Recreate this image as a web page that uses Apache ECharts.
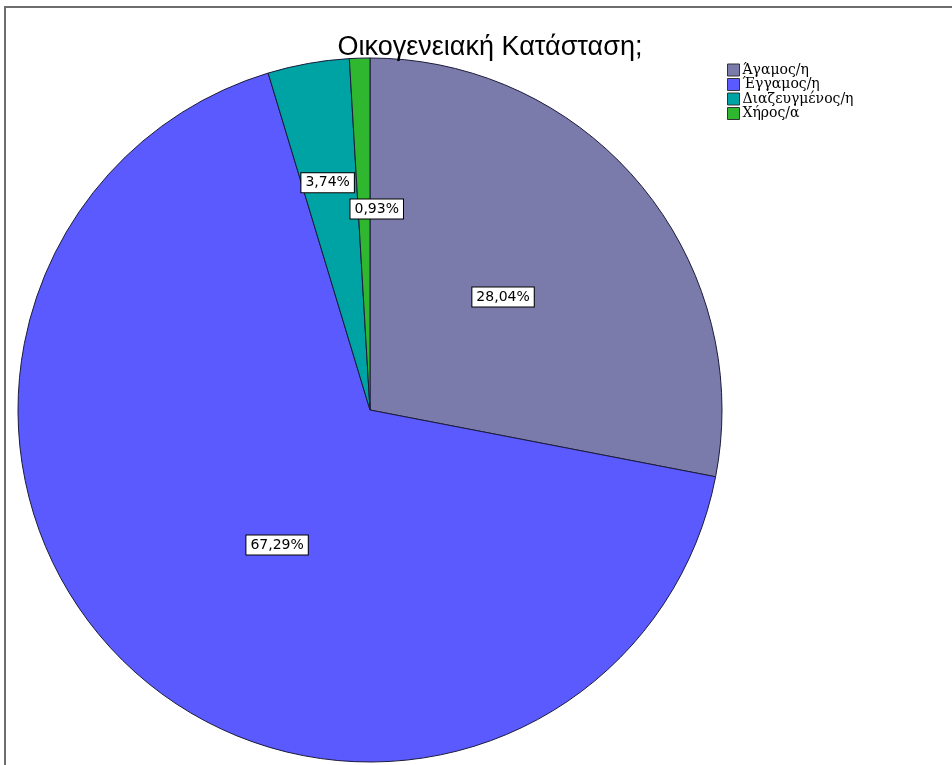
<!DOCTYPE html>
<html>
<head>
<meta charset="utf-8">
<script src="https://cdn.jsdelivr.net/npm/echarts@6/dist/echarts.min.js"></script>
<style>
html,body{margin:0;padding:0;background:#fff;}
#frame{position:absolute;left:4px;top:6px;width:948px;height:759px;border-top:2px solid #6e6e6e;border-left:2px solid #6e6e6e;box-sizing:border-box;}
#chart{position:absolute;left:0;top:0;width:952px;height:765px;}
</style>
</head>
<body>
<div id="frame"></div>
<div id="chart"></div>
<script>
const titleText = 'Οικογενειακή Κατάσταση;';
const categories = ['Άγαμος/η', 'Έγγαμος/η', 'Διαζευγμένος/η', 'Χήρος/α'];
const counts = [30, 72, 4, 1];
const colors = ['#7b7bab', '#5a5aff', '#00a3a3', '#2fb72f'];
const labelOffsets = [[-5, 1], [27, 2], [-11, -51], [12, -22]];

const chart = echarts.init(document.getElementById('chart'), null, {renderer: 'canvas'});
const data = categories.map((c, i) => ({
  name: c,
  value: counts[i],
  itemStyle: {color: colors[i]},
  label: {offset: labelOffsets[i]}
}));
chart.setOption({
  animation: false,
  backgroundColor: 'transparent',
  title: {
    text: titleText,
    left: 485,
    textAlign: 'center',
    top: 29,
    textStyle: {fontFamily: 'Liberation Sans, Arial, sans-serif', fontSize: 27, fontWeight: 'normal', color: '#000'}
  },
  legend: {
    orient: 'vertical',
    left: 722,
    top: 58,
    itemWidth: 12,
    itemHeight: 12,
    itemGap: 0.5,
    icon: 'rect',
    itemStyle: {borderColor: '#333', borderWidth: 1},
    textStyle: {fontFamily: 'DejaVu Serif, serif', fontSize: 14, lineHeight: 14, color: '#000', padding: [0, 0, 0, -2]},
    data: categories
  },
  series: [{
    type: 'pie',
    center: [370, 410],
    radius: 352,
    startAngle: 90,
    clockwise: true,
    percentPrecision: 2,
    itemStyle: {borderColor: '#1a1a3a', borderWidth: 1},
    emphasis: {disabled: true},
    label: {
      position: 'inside',
      formatter: p => p.percent.toFixed(2).replace('.', ',') + '%',
      fontFamily: 'DejaVu Sans, Verdana, sans-serif',
      fontSize: 14,
      color: '#000',
      backgroundColor: '#fff',
      borderColor: '#000',
      borderWidth: 1,
      padding: [3, 4, 2, 4]
    },
    labelLine: {show: false},
    data: data
  }]
});
</script>
</body>
</html>
